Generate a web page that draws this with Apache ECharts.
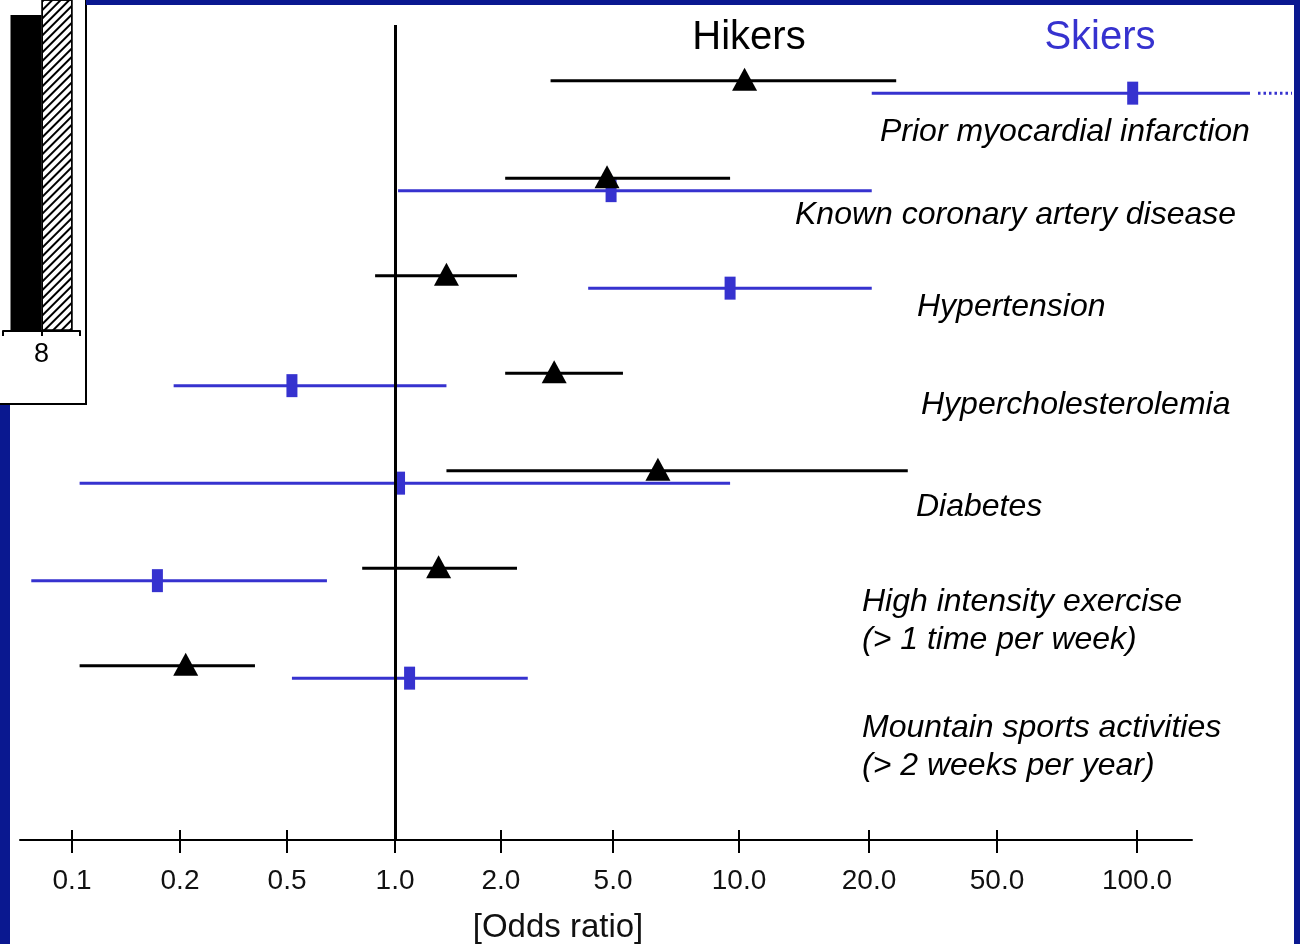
<!DOCTYPE html>
<html>
<head>
<meta charset="utf-8">
<script src="https://cdn.jsdelivr.net/npm/echarts@6/dist/echarts.min.js"></script>
<style>html,body{margin:0;padding:0;background:#fff;}#chart{width:1300px;height:944px;}</style>
</head>
<body>
<div id="chart"></div>
<script>
// ---------- data ----------
const categories = [
  'Prior myocardial infarction',
  'Known coronary artery disease',
  'Hypertension',
  'Hypercholesterolemia',
  'Diabetes',
  'High intensity exercise\n(> 1 time per week)',
  'Mountain sports activities\n(> 2 weeks per year)'
];
const hikersOR   = [10.3, 4.76, 1.40, 3.09, 6.40, 1.33, 0.21];
const hikersLow  = [3.0,  2.07, 0.88, 2.07, 1.40, 0.81, 0.105];
const hikersHigh = [24.3, 9.52, 2.28, 5.28, 26.4, 2.28, 0.38];
const skiersOR   = [97.9, 4.92, 9.52, 0.516, 1.03, 0.173, 1.10];
const skiersLow  = [20.4, 1.02, 4.08, 0.192, 0.105, 0.077, 0.516];
const skiersHigh = [175,  20.4, 20.4, 1.40, 9.52, 0.646, 2.49];
const skiersOpenEnded = [true, false, false, false, false, false, false];
const tickValues = [0.1, 0.2, 0.5, 1, 2, 5, 10, 20, 50, 100];
const tickLabels = ['0.1', '0.2', '0.5', '1.0', '2.0', '5.0', '10.0', '20.0', '50.0', '100.0'];
const seriesNames = ['Hikers', 'Skiers'];
const axisTitle = '[Odds ratio]';
// inset (cropped bar chart fragment)
const insetCategories = ['', '8', ''];
const insetBlack = [null, 95.5, null];
const insetHatched = [null, 110, null];

// ---------- layout / style ----------
const FONT = '"Liberation Sans", Arial, Helvetica, sans-serif';
const NAVY = '#0a1890';
const BLUE = '#3632cf';
const TICK_SLOTS = [0, 1.003, 1.997, 3, 3.984, 5.025, 6.195, 7.402, 8.591, 9.891]; // uneven axis spacing of the original
const ROW_OFFSET = 0.064;
const LABEL_POS = [[880, 132], [795, 215], [917, 307], [921, 405], [916, 507], [862, 621], [862, 747]];

function toSlot(v) {
  let i = 0;
  while (i < tickValues.length - 2 && v > tickValues[i + 1]) i++;
  const t = Math.log(v / tickValues[i]) / Math.log(tickValues[i + 1] / tickValues[i]);
  return TICK_SLOTS[i] + t * (TICK_SLOTS[i + 1] - TICK_SLOTS[i]);
}
const tickSlotValues = tickValues.map(toSlot);
function labelFor(slot) {
  let best = 0;
  tickSlotValues.forEach((s, i) => { if (Math.abs(s - slot) < Math.abs(tickSlotValues[best] - slot)) best = i; });
  return tickLabels[best];
}

const hikersData = categories.map((c, i) => [i - ROW_OFFSET, toSlot(hikersLow[i]), toSlot(hikersOR[i]), toSlot(hikersHigh[i]), 0]);
const skiersData = categories.map((c, i) => [i + ROW_OFFSET, toSlot(skiersLow[i]), toSlot(skiersOR[i]), toSlot(skiersHigh[i]), skiersOpenEnded[i] ? 1 : 0]);

function makeRender(kind) {
  return function (params, api) {
    const y = api.value(0);
    const lo = api.coord([api.value(1), y]);
    const pt = api.coord([api.value(2), y]);
    const hi = api.coord([api.value(3), y]);
    const color = kind === 'hikers' ? '#000' : BLUE;
    const children = [{
      type: 'line',
      shape: { x1: lo[0], y1: lo[1], x2: hi[0], y2: hi[1] },
      style: { stroke: color, lineWidth: 3 }
    }];
    if (api.value(4)) {
      children.push({
        type: 'line',
        shape: { x1: hi[0] + 8, y1: hi[1], x2: hi[0] + 42, y2: hi[1] },
        style: { stroke: color, lineWidth: 3, lineDash: [2.5, 3] }
      });
    }
    if (kind === 'hikers') {
      children.push({
        type: 'polygon',
        shape: { points: [[pt[0] - 12.5, pt[1] + 10], [pt[0] + 12.5, pt[1] + 10], [pt[0], pt[1] - 13]] },
        style: { fill: '#000' }
      });
    } else {
      children.push({
        type: 'rect',
        shape: { x: pt[0] - 5.5, y: pt[1] - 11.5, width: 11, height: 23 },
        style: { fill: BLUE }
      });
    }
    return { type: 'group', children };
  };
}

const labelGraphics = categories.map((c, i) => ({
  type: 'text', x: LABEL_POS[i][0], y: LABEL_POS[i][1], z: 5,
  style: {
    text: c, fill: '#000', fontSize: 32, fontStyle: 'italic', fontFamily: FONT,
    textAlign: 'left', textVerticalAlign: 'middle', lineHeight: 38
  }
}));

const chart = echarts.init(document.getElementById('chart'), null, { renderer: 'canvas' });
chart.setOption({
  backgroundColor: '#fff',
  animation: false,
  grid: [
    { left: 20, right: 108, top: 25, bottom: 104 },
    { left: 2, width: 78, top: 0, height: 331 }
  ],
  xAxis: [
    {
      type: 'value', gridIndex: 0, position: 'bottom', min: -0.483, max: 10.402,
      axisLine: { show: true, onZero: false, lineStyle: { color: '#000', width: 2 } },
      axisTick: { show: true, customValues: tickSlotValues, length: 13, lineStyle: { color: '#000', width: 2 } },
      axisLabel: { show: true, customValues: tickSlotValues, formatter: v => labelFor(v), fontSize: 28, color: '#111', fontFamily: FONT, margin: 27 },
      splitLine: { show: false }
    },
    {
      type: 'category', gridIndex: 1, data: insetCategories, boundaryGap: false,
      axisLine: { show: true, onZero: false, lineStyle: { color: '#000', width: 2 } },
      axisTick: { show: true, length: 5, lineStyle: { color: '#000', width: 2 } },
      axisLabel: { show: true, fontSize: 27, color: '#000', fontFamily: FONT, margin: 10, interval: 0 }
    },
    {
      type: 'value', gridIndex: 0, position: 'bottom', min: -0.483, max: 10.402,
      axisLine: { show: false, onZero: false },
      axisTick: { show: true, inside: true, customValues: tickSlotValues, length: 10, lineStyle: { color: '#000', width: 2 } },
      axisLabel: { show: false },
      splitLine: { show: false }
    }
  ],
  yAxis: [
    { type: 'value', gridIndex: 0, min: -0.635, max: 7.724, inverse: true, show: false, axisLine: { onZero: false }, splitLine: { show: false } },
    { type: 'value', gridIndex: 1, min: 0, max: 100, show: false, axisLine: { onZero: false }, splitLine: { show: false } }
  ],
  series: [
    {
      name: 'ref', type: 'line', xAxisIndex: 0, yAxisIndex: 0, data: [], silent: true,
      markLine: {
        symbol: 'none', silent: true, label: { show: false },
        lineStyle: { color: '#000', width: 3, type: 'solid' },
        data: [{ xAxis: toSlot(1) }]
      }
    },
    {
      name: seriesNames[1], type: 'custom', xAxisIndex: 0, yAxisIndex: 0, clip: false,
      renderItem: makeRender('skiers'), data: skiersData, encode: { x: [1, 2, 3], y: 0 }, z: 3
    },
    {
      name: seriesNames[0], type: 'custom', xAxisIndex: 0, yAxisIndex: 0, clip: false,
      renderItem: makeRender('hikers'), data: hikersData, encode: { x: [1, 2, 3], y: 0 }, z: 4
    },
    {
      name: 'inset A', type: 'bar', xAxisIndex: 1, yAxisIndex: 1, data: insetBlack,
      barWidth: 31, barGap: '0%', itemStyle: { color: '#000' }
    },
    {
      name: 'inset B', type: 'bar', xAxisIndex: 1, yAxisIndex: 1, data: insetHatched,
      barWidth: 31, barGap: '0%',
      itemStyle: {
        color: '#fff', borderColor: '#000', borderWidth: 1.5,
        decal: { symbol: 'rect', symbolSize: 1, dashArrayX: [1, 0], dashArrayY: [1.2, 3.8], rotation: -Math.PI / 4, color: '#000' }
      }
    }
  ],
  graphic: [
    { type: 'rect', z: 0, shape: { x: -2, y: -2, width: 88, height: 406 }, style: { fill: '#fff', stroke: '#000', lineWidth: 2 } },
    { type: 'rect', z: 100, shape: { x: 86, y: 0, width: 1214, height: 5 }, style: { fill: NAVY } },
    { type: 'rect', z: 100, shape: { x: 1294, y: 0, width: 6, height: 944 }, style: { fill: NAVY } },
    { type: 'rect', z: 100, shape: { x: 0, y: 405, width: 10, height: 539 }, style: { fill: NAVY } },
    { type: 'text', x: 749, y: 38, z: 5, style: { text: seriesNames[0], fill: '#000', fontSize: 40, fontFamily: FONT, textAlign: 'center', textVerticalAlign: 'middle' } },
    { type: 'text', x: 1100, y: 38, z: 5, style: { text: seriesNames[1], fill: BLUE, fontSize: 40, fontFamily: FONT, textAlign: 'center', textVerticalAlign: 'middle' } },
    { type: 'text', x: 558, y: 928, z: 5, style: { text: axisTitle, fill: '#111', fontSize: 33, fontFamily: FONT, textAlign: 'center', textVerticalAlign: 'middle' } }
  ].concat(labelGraphics)
});
</script>
</body>
</html>
